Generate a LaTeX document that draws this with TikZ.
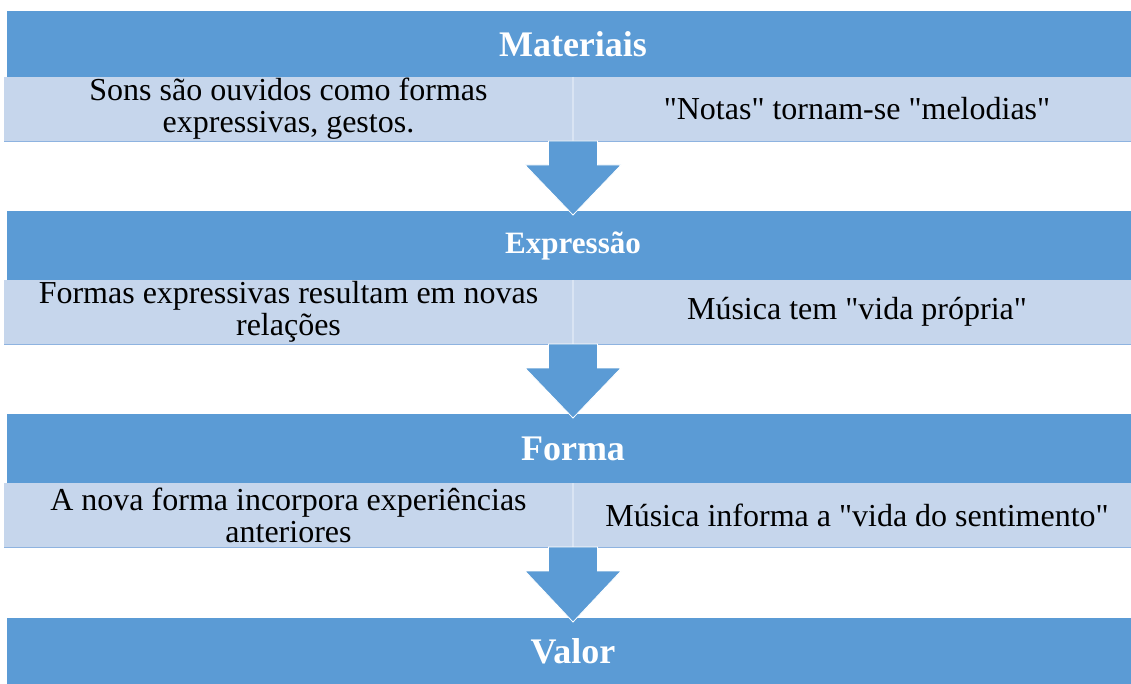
\documentclass[tikz,border=0pt]{standalone}
\usepackage{fontspec}
\setmainfont{Liberation Serif}[Ligatures=TeXOff]
\usepackage{tikz}
\usetikzlibrary{calc}
\definecolor{hdrBlue}{HTML}{5B9BD5}
\definecolor{bandBlue}{HTML}{C6D6EC}
\definecolor{bandEdge}{HTML}{8EB3E0}
\definecolor{bandSep}{HTML}{D9E4F3}
\tikzset{
  header/.style={rectangle, anchor=north west, fill=hdrBlue, inner sep=0pt, outer sep=0pt, minimum width=849pt, text=white, font=\bfseries\fontsize{27}{30}\selectfont},
  cellL/.style={rectangle, anchor=north west, fill=bandBlue, inner sep=0pt, outer sep=0pt, minimum width=426.75pt, minimum height=48pt, align=center, font=\fontsize{24}{24}\selectfont},
  cellR/.style={rectangle, anchor=north west, fill=bandBlue, inner sep=0pt, outer sep=0pt, minimum width=426pt, minimum height=48pt, align=center, font=\fontsize{24}{24}\selectfont},
  blockarrow/.style={fill=hdrBlue, draw=white, line width=0.6pt, line join=miter}
}
\begin{document}
\begin{tikzpicture}[x=0.75pt, y=-0.75pt]
\useasboundingbox (0,0) rectangle (1131,684);
% level headers
\node[header, minimum height=49.5pt] (h1) at (7,11) {Materiais};
\node[header, minimum height=51.75pt, font=\bfseries\fontsize{23.3}{26}\selectfont] (h2) at (7,211) {Expressão};
\node[header, minimum height=51.75pt] (h3) at (7,414) {Forma};
\node[header, minimum height=49.5pt] (h4) at (7,618) {Valor};
% description bands
\node[cellL] (l1) at (4,77) {Sons são ouvidos como formas\\expressivas, gestos.};
\node[cellR] (r1) at (573,77) {"Notas" tornam-se "melodias"};
\node[cellL] (l2) at (4,280) {Formas expressivas resultam em novas\\relações};
\node[cellR] (r2) at (573,280) {Música tem "vida própria"};
\node[cellL] (l3) at (4,483) {A nova forma incorpora experiências\\anteriores};
\node[cellR] (r3) at (573,483) {Música informa a "vida do sentimento"};
\foreach \n in {1,2,3}{
  \draw[bandSep, line width=0.8pt] (l\n.north east) -- (l\n.south east);
  \draw[bandEdge, line width=0.6pt] (l\n.south west) -- (r\n.south east);
}
% block arrows between levels
\foreach \src/\dst in {l1/h2,l2/h3,l3/h4}
  \draw[blockarrow] let \p1=(\src.south east), \p2=(\dst.north) in
    (\x1-18.4pt,\y1) -- (\x1-18.4pt,\y1-18pt) -- (\x1-36pt,\y1-18pt)
    -- (\x1,\y2-3pt) -- (\x1+36pt,\y1-18pt) -- (\x1+18.4pt,\y1-18pt)
    -- (\x1+18.4pt,\y1) -- cycle;
\end{tikzpicture}
\end{document}
